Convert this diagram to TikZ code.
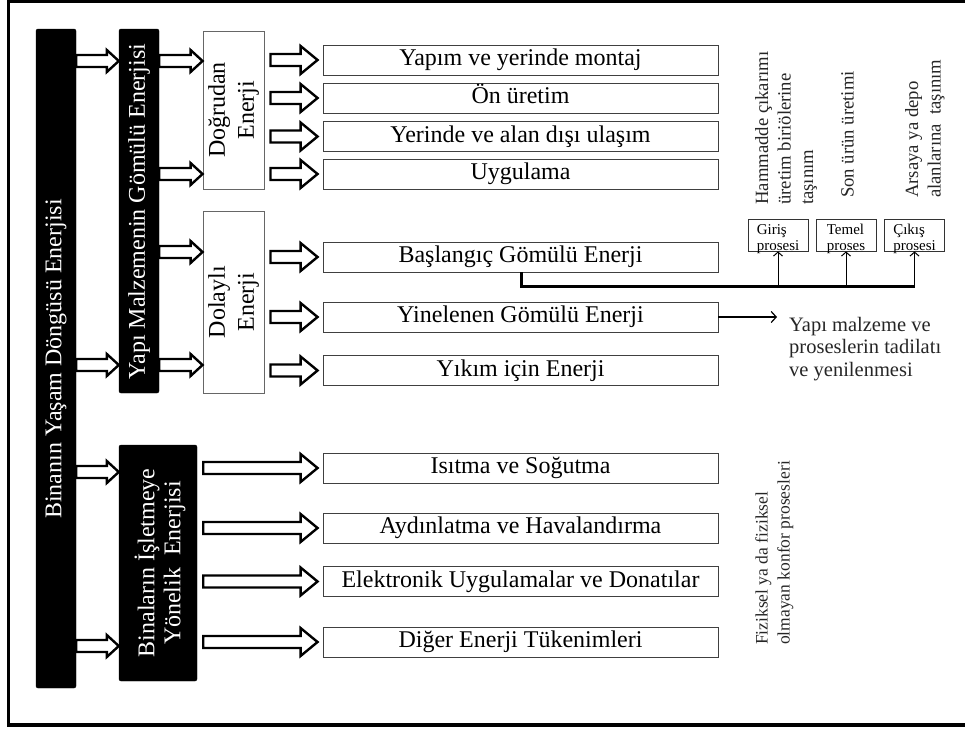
\documentclass[tikz,border=0pt]{standalone}
\usepackage{fontspec}
\setmainfont{Liberation Serif}
\usetikzlibrary{calc,arrows.meta}
\begin{document}
\begin{tikzpicture}[x=1pt,y=-1pt,
  bar/.style={fill=black, draw=black, rounded corners=2pt, inner sep=0pt},
  wbox/.style={draw=black!60, line width=0.9pt, fill=white, inner sep=0pt},
  tbox/.style={draw=black!75, line width=0.9pt, fill=white, minimum width=395pt, minimum height=30pt,
    inner sep=0pt, text height=16.5pt, text depth=5pt, font=\fontsize{24}{28}\selectfont},
  pbox/.style={draw=black!80, line width=0.8pt, fill=white, minimum width=60pt, minimum height=32pt,
    inner sep=0pt},
  ptext/.style={align=left, inner sep=0pt, font=\fontsize{15}{15.5}\selectfont, yshift=-4pt},
  barlabel/.style={rotate=90, text=white, align=center, inner sep=0pt},
  vlabel/.style={rotate=90, align=center, inner sep=0pt},
  sidetext/.style={rotate=90, align=left, inner sep=0pt, anchor=north west, text=black!85},
  blockarrow/.style 2 args={draw=black, line width=2.4pt, fill=white, line join=miter,
    to path={let \p1=(\tikztostart), \p2=(\tikztotarget) in
      (\x1,\y1+6pt) -- (\x2-#2,\y1+6pt) -- (\x2-#2,\y1+#1) -- (\x2,\y1) --
      (\x2-#2,\y1-#1) -- (\x2-#2,\y1-6pt) -- (\x1,\y1-6pt) -- cycle}},
  barrS/.style={blockarrow={11pt}{12pt}},
  barrL/.style={blockarrow={14pt}{17pt}},
  thin/.style={line width=1pt, -{Straight Barb[length=4pt,width=9pt]}}
]
\useasboundingbox (0,0) rectangle (965,731);
% frame
\draw[line width=3.2pt, line join=miter] (966,1.3) -- (8.5,1.3) -- (8.5,725) -- (966,725);

% bars and boxes
\node[bar, minimum width=40pt, minimum height=659pt] (bar1) at (56,358.5) {};
\node[bar, minimum width=40pt, minimum height=364pt] (bar2) at (139,211) {};
\node[bar, minimum width=78pt, minimum height=236pt] (bar3) at (158,563) {};
\node[wbox, minimum width=61pt, minimum height=158pt] (dog) at (233.5,110) {};
\node[wbox, minimum width=61pt, minimum height=182pt] (dol) at (233.5,302) {};

\node[barlabel, font=\fontsize{24}{28}\selectfont] (l1) at (56,359) {Binanın Yaşam Döngüsü Enerjisi};
\node[barlabel, font=\fontsize{24}{28}\selectfont] (l2) at (139,211.5) {Yapı Malzemenin Gömülü Enerjisi};
\node[barlabel, font=\fontsize{24}{26}\selectfont] (l3) at (160,563) {Binaların İşletmeye\\Yönelik\ \ Enerjisi};
\node[vlabel, font=\fontsize{24}{29}\selectfont] (l4) at (dog.center) {Doğrudan\\Enerji};
\node[vlabel, font=\fontsize{24}{29}\selectfont] (l5) at (dol.center) {Dolaylı\\Enerji};

% text boxes
\node[tbox] (b1) at (520.5,60) {Yapım ve yerinde montaj};
\node[tbox] (b2) at (520.5,98) {Ön üretim};
\node[tbox] (b3) at (520.5,136.5) {Yerinde ve alan dışı ulaşım};
\node[tbox] (b4) at (520.5,174) {Uygulama};
\node[tbox] (b5) at (520.5,257) {Başlangıç Gömülü Enerji};
\node[tbox] (b6) at (520.5,317) {Yinelenen Gömülü Enerji};
\node[tbox] (b7) at (520.5,370.5) {Yıkım için Enerji};
\node[tbox] (b8) at (520.5,468) {Isıtma ve Soğutma};
\node[tbox] (b9) at (520.5,528) {Aydınlatma ve Havalandırma};
\node[tbox] (b10) at (520.5,581.5) {Elektronik Uygulamalar ve Donatılar};
\node[tbox] (b11) at (520.5,642) {Diğer Enerji Tükenimleri};

% process boxes
\node[pbox] (gir) at (778,235) {};
\node[pbox] (tem) at (846,235) {};
\node[pbox] (cik) at (914.5,235) {};
\node[ptext] (girt) at (gir.center) {Giriş\\prosesi};
\node[ptext] (temt) at (tem.center) {Temel\\proses};
\node[ptext] (cikt) at (cik.center) {Çıkış\\prosesi};

% side texts
\node[sidetext, font=\fontsize{18.7}{22.5}\selectfont] (ham) at (755,205) {Hammadde çıkarımı\\üretim biriölerine\\taşınım};
\node[sidetext, font=\fontsize{18.7}{22.5}\selectfont] (son) at (841,198) {Son ürün üretimi};
\node[sidetext, font=\fontsize{18.7}{22.5}\selectfont] (ars) at (905,198) {Arsaya ya depo\\alanlarına\ \ taşınım};
\node[sidetext, font=\fontsize{17.5}{22}\selectfont] (fiz) at (755,645) {Fiziksel ya da fiziksel\\olmayan konfor prosesleri};
\node[anchor=north west, align=left, inner sep=0pt, text=black!85, font=\fontsize{20.5}{22.5}\selectfont] (ren) at (789,317) {Yapı malzeme ve\\proseslerin tadilatı\\ve yenilenmesi};

% arrow rows
\coordinate (yA) at (0,61);
\coordinate (yB) at (0,174);
\coordinate (yC) at (0,252);
\coordinate (yD) at (0,365);
\coordinate (yE) at (0,472);
\coordinate (yF) at (0,646);

\draw[barrS] (bar1.east |- yA) to (bar2.west |- yA);
\draw[barrS] (bar1.east |- yD) to (bar2.west |- yD);
\draw[barrS] (bar1.east |- yE) to (bar3.west |- yE);
\draw[barrS] (bar1.east |- yF) to (bar3.west |- yF);
\draw[barrS] (bar2.east |- yA) to (dog.west |- yA);
\draw[barrS] (bar2.east |- yB) to (dog.west |- yB);
\draw[barrS] (bar2.east |- yC) to (dol.west |- yC);
\draw[barrS] (bar2.east |- yD) to (dol.west |- yD);

\draw[barrL] ($(dog.east |- b1)+(6,0)$) to ($(b1.west)+(-5,0)$);
\draw[barrL] ($(dog.east |- b2)+(6,0)$) to ($(b2.west)+(-5,0)$);
\draw[barrL] ($(dog.east |- b3)+(6,0)$) to ($(b3.west)+(-5,0)$);
\draw[barrL] ($(dog.east |- b4)+(6,0)$) to ($(b4.west)+(-5,0)$);
\draw[barrL] ($(dol.east |- b5)+(6,0)$) to ($(b5.west)+(-5,0)$);
\draw[barrL] ($(dol.east |- b6)+(6,0)$) to ($(b6.west)+(-5,0)$);
\draw[barrL] ($(dol.east |- b7)+(6,0)$) to ($(b7.west)+(-5,0)$);
\draw[barrL] ($(bar3.east |- b8)+(6,0)$) to ($(b8.west)+(-5,0)$);
\draw[barrL] ($(bar3.east |- b9)+(6,0)$) to ($(b9.west)+(-5,0)$);
\draw[barrL] ($(bar3.east |- b10)+(6,0)$) to ($(b10.west)+(-5,0)$);
\draw[barrL] ($(bar3.east |- b11)+(6,0)$) to ($(b11.west)+(-5,0)$);

% process connector
\coordinate (j0) at (521,286);
\draw[line width=3pt, line join=miter] (b5.south -| j0) -- (j0) -- (j0 -| cik.south);
\draw[thin] (j0 -| gir.south) -- (gir.south);
\draw[thin] (j0 -| tem.south) -- (tem.south);
\draw[thin] (j0 -| cik.south) -- (cik.south);

% renovation arrow
\draw[line width=1.2pt, -{Straight Barb[length=5pt,width=11pt]}] (b6.east) -- ($(b6.east -| ren.west)+(-12,0)$);
\end{tikzpicture}
\end{document}
